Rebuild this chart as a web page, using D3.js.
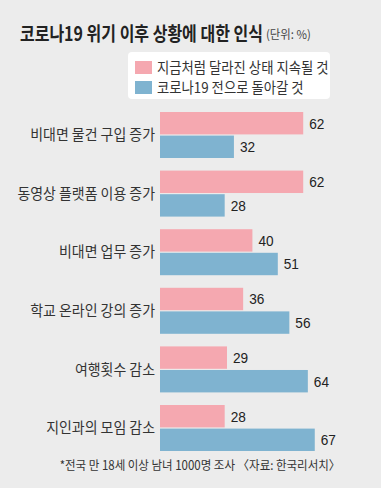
<!DOCTYPE html>
<html><head><meta charset="utf-8">
<script src="https://cdn.jsdelivr.net/npm/d3@7"></script>
<style>
html,body{margin:0;padding:0;background:#ececec;}
svg{display:block;}
</style></head>
<body>
<script>
const categories = ["비대면 물건 구입 증가","동영상 플랫폼 이용 증가","비대면 업무 증가","학교 온라인 강의 증가","여행횟수 감소","지인과의 모임 감소"];
const seriesNames = ["지금처럼 달라진 상태 지속될 것","코로나19 전으로 돌아갈 것"];
const keepValues = [62,62,40,36,29,28];
const returnValues = [32,28,51,56,64,67];
const colors = ["#f5a8b0","#7fb3d0"];
const title = "코로나19 위기 이후 상황에 대한 인식";
const unit = "(단위: %)";
const note = "*전국 만 18세 이상 남녀 1000명 조사 〈자료: 한국리서치〉";

const W=381,H=488;
const font = "'Noto Sans CJK KR','Noto Sans',sans-serif";
const sx = (x0,k)=>`translate(${x0},0) scale(${k},1) translate(${-x0},0)`;
const svg = d3.select("body").append("svg").attr("width",W).attr("height",H);
svg.append("rect").attr("width",W).attr("height",H).attr("fill","#ececec");

svg.append("text").attr("x",20).attr("y",41).attr("font-family",font).attr("font-weight",700)
  .attr("font-size",19.5).attr("fill","#222").attr("transform",sx(20,0.82)).text(title);
svg.append("text").attr("x",266).attr("y",39).attr("font-family",font).attr("font-size",12)
  .attr("fill","#444").attr("transform",sx(266,0.95)).text(unit);

// legend
const lg = svg.append("g");
lg.append("rect").attr("x",128).attr("y",52).attr("width",202).attr("height",47).attr("rx",4).attr("fill","#fff");
seriesNames.forEach((s,i)=>{
  lg.append("rect").attr("x",135).attr("y",61+i*20).attr("width",17).attr("height",13).attr("fill",colors[i]);
  lg.append("text").attr("x",157).attr("y",68+i*20).attr("dy","0.35em").attr("font-family",font)
    .attr("font-size",15).attr("fill","#333")
    .attr("transform",sx(157,0.89)).text(s);
});

const y = d3.scaleBand().domain(categories).range([112,451]).paddingInner(0.215).paddingOuter(0);
const ys = d3.scaleBand().domain([0,1]).range([0,y.bandwidth()]).paddingInner(0.05);
const x = d3.scaleLinear().domain([0,100]).range([160,391]);

const data = categories.map((c,i)=>({c, v:[keepValues[i],returnValues[i]]}));
const g = svg.append("g");
const grp = g.selectAll("g.grp").data(data).join("g").attr("class","grp")
  .attr("transform",d=>`translate(0,${y(d.c)})`);
grp.selectAll("rect").data(d=>d.v.map((v,i)=>({v,i}))).join("rect")
  .attr("x",x(0)).attr("y",d=>ys(d.i)).attr("width",d=>x(d.v)-x(0)).attr("height",ys.bandwidth())
  .attr("fill",d=>colors[d.i]);
grp.selectAll("text.val").data(d=>d.v.map((v,i)=>({v,i}))).join("text").attr("class","val")
  .attr("x",d=>x(d.v)+6).attr("y",d=>ys(d.i)+ys.bandwidth()/2).attr("dy","0.35em")
  .attr("font-family","'Liberation Sans',Arial,sans-serif").attr("font-size",15.5).attr("fill","#222")
  .attr("transform",d=>sx(x(d.v)+6,0.88))
  .text(d=>d.v);
grp.append("text").attr("x",155).attr("y",y.bandwidth()/2).attr("dy","0.35em").attr("text-anchor","end")
  .attr("font-family",font).attr("font-size",15).attr("fill","#333")
  .attr("transform",sx(155,0.93)).text(d=>d.c);

svg.append("text").attr("x",200).attr("y",470).attr("text-anchor","middle").attr("font-family",font)
  .attr("font-size",12.5).attr("fill","#333")
  .attr("transform",sx(200,0.92)).text(note);
</script>
</body></html>
